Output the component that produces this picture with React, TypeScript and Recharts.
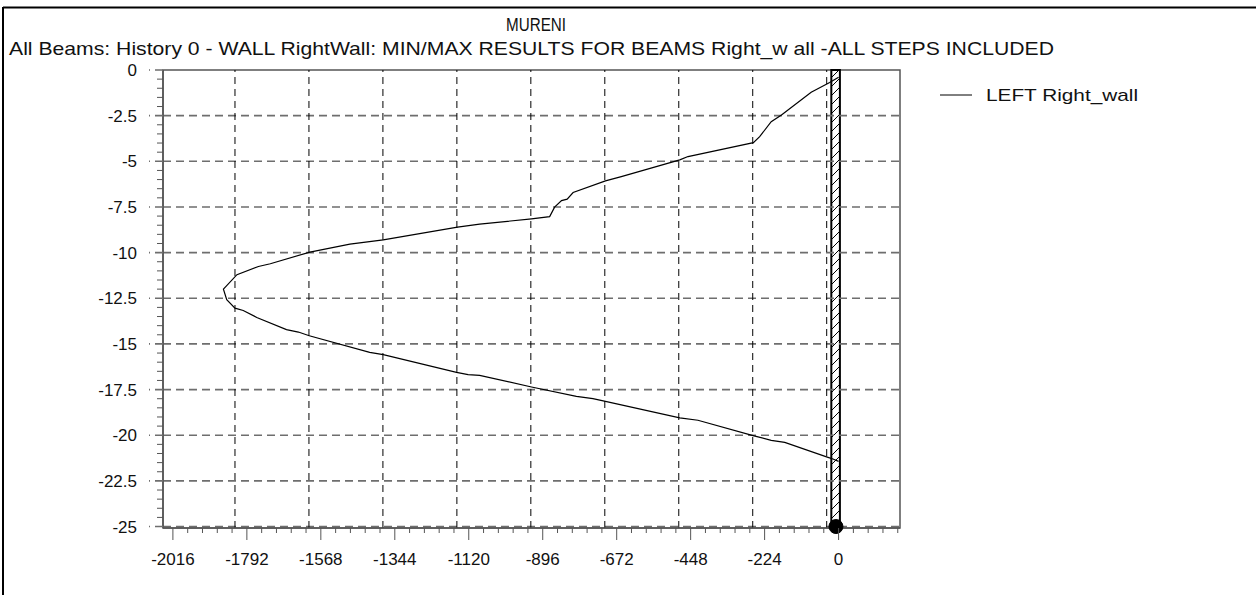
import React from "react";
import {
  ScatterChart,
  Scatter,
  XAxis,
  YAxis,
  ReferenceLine,
  ReferenceArea,
  ReferenceDot,
  Legend,
} from "recharts";

// Depth along the wall (m) and the LEFT envelope value at that depth
const depths = [
  -0.4, -0.69, -1.22, -2.46, -2.83, -3.65, -3.98, -4.74, -4.92, -5.84, -6.07, -6.71,
  -7.07, -7.15, -7.51, -8.03, -8.15, -8.44, -8.6, -9.3, -9.54, -9.97, -10.61, -10.76,
  -11.21, -12.0, -12.58, -13.04, -13.17, -13.55, -14.22, -14.35, -14.55, -15.46, -15.59,
  -16.56, -16.68, -16.72, -17.36, -17.87, -18.0, -18.15, -19.05, -19.18, -20.02, -20.28,
  -20.39, -21.21, -21.3, -21.43,
];
const leftRightWall = [
  0, -27, -83, -173, -204, -239, -258, -456, -481, -658, -706, -804,
  -822, -839, -860, -875, -930, -1087, -1154, -1379, -1480, -1601, -1721, -1757,
  -1822, -1863, -1853, -1828, -1803, -1762, -1672, -1636, -1603, -1420, -1379,
  -1157, -1122, -1087, -930, -794, -744, -706, -481, -426, -259, -204,
  -163, -32, -17, 0,
];

const xMajorTicks = [-2016, -1792, -1568, -1344, -1120, -896, -672, -448, -224, 0];
const yMajorTicks = [0, -2.5, -5, -7.5, -10, -12.5, -15, -17.5, -20, -22.5, -25];
const xGridValues = [-1828, -1604, -1380, -1156, -932, -708, -484, -260, -36];

const X_DOMAIN: [number, number] = [-2046, 186];
const Y_DOMAIN: [number, number] = [-25.08, 0];
const X_MINOR = 44.8;
const Y_MINOR = 0.5;

const curve = depths.map((z, i) => ({ z, m: leftRightWall[i] }));

// axis ticks: majors plus four minor subdivisions between them
const xTicks: number[] = [];
for (let i = -45; i <= 4; i++) xTicks.push(i % 5 === 0 ? xMajorTicks[9 + i / 5] : i * X_MINOR);
const yTicks: number[] = [];
for (let i = -50; i <= 0; i++) yTicks.push(i % 5 === 0 ? yMajorTicks[-i / 5] : i * Y_MINOR);

const FONT = "'Liberation Sans', Arial, Helvetica, sans-serif";
const AXIS_COLOR = "#555";
const GRID_COLOR = "#6e6e6e";

const isMajorX = (v: number) => xMajorTicks.includes(v);
const isMajorY = (v: number) => yMajorTicks.includes(v);

const XTick = (props: any) => {
  const { x, y, payload } = props;
  const v = payload.value;
  const major = isMajorX(v);
  return (
    <g>
      <line x1={x} x2={x} y1={y} y2={y + (major ? 12 : 5)} stroke={AXIS_COLOR} strokeWidth={1} />
      {major && (
        <text x={x} y={y + 37} textAnchor="middle" fontFamily={FONT} fontSize={17} fill="#111">
          {String(v)}
        </text>
      )}
    </g>
  );
};

const YTick = (props: any) => {
  const { x, y, payload } = props;
  const v = payload.value;
  const major = isMajorY(v);
  return (
    <g>
      {major ? (
        <line x1={x} x2={x - 14} y1={y} y2={y} stroke={GRID_COLOR} strokeWidth={1.6} strokeDasharray="8 5" />
      ) : (
        <line x1={x} x2={x - 6} y1={y} y2={y} stroke={AXIS_COLOR} strokeWidth={1} />
      )}
      {major && (
        <text x={x - 26} y={y} dy="0.36em" textAnchor="end" fontFamily={FONT} fontSize={17} fill="#111">
          {String(v)}
        </text>
      )}
    </g>
  );
};

const renderLegend = () => (
  <svg width={260} height={24} style={{ display: "block" }}>
    <line x1={0} x2={32} y1={11} y2={11} stroke="#000" strokeWidth={1} />
    <text x={46} y={11} dy="0.36em" fontFamily={FONT} fontSize={17} fill="#111" textLength={152} lengthAdjust="spacingAndGlyphs">
      LEFT Right_wall
    </text>
  </svg>
);

const noMarker = () => <g />;

export default function App() {
  return (
    <div style={{ position: "absolute", left: 0, top: 0, width: 1256, height: 595, background: "#fff" }}>
      <svg width={1256} height={595} style={{ position: "absolute", left: 0, top: 0 }}>
        <defs>
          <pattern id="wallHatch" patternUnits="userSpaceOnUse" width={9} height={9}>
            <rect width={9} height={9} fill="#fff" />
            <path d="M0,9 L9,0 M-2,2 L2,-2 M7,11 L11,7" stroke="#000" strokeWidth={1} />
          </pattern>
        </defs>
        <line x1={3} x2={1256} y1={7.5} y2={7.5} stroke="#000" strokeWidth={2} />
        <line x1={3} x2={3} y1={7} y2={595} stroke="#000" strokeWidth={2} />
        <text x={536} y={31} textAnchor="middle" fontFamily={FONT} fontSize={18} fill="#111" textLength={60} lengthAdjust="spacingAndGlyphs">
          MURENI
        </text>
        <text x={9} y={55} fontFamily={FONT} fontSize={19} fill="#111" textLength={1045} lengthAdjust="spacingAndGlyphs">
          All Beams: History 0 - WALL RightWall: MIN/MAX RESULTS FOR BEAMS Right_w all -ALL STEPS INCLUDED
        </text>
      </svg>
      <div style={{ position: "absolute", left: 0, top: 0 }}>
        <ScatterChart width={1256} height={595} margin={{ top: 70, right: 356, bottom: 27, left: 103 }}>
          <XAxis
            type="number"
            dataKey="m"
            domain={X_DOMAIN}
            ticks={xTicks}
            interval={0}
            tickSize={0}
            tickMargin={0}
            height={40}
            stroke={AXIS_COLOR}
            axisLine={{ stroke: AXIS_COLOR, strokeWidth: 1.5 }}
            tick={<XTick />}
          />
          <YAxis
            type="number"
            dataKey="z"
            domain={Y_DOMAIN}
            ticks={yTicks}
            interval={0}
            tickSize={0}
            tickMargin={0}
            width={60}
            axisLine={{ stroke: AXIS_COLOR, strokeWidth: 1.5 }}
            tick={<YTick />}
          />
          {yMajorTicks
            .filter((v) => v !== 0)
            .map((v) => (
              <ReferenceLine key={`h${v}`} y={v} stroke={GRID_COLOR} strokeWidth={1.6} strokeDasharray="8 5" />
            ))}
          {xGridValues.map((v) => (
            <ReferenceLine key={`v${v}`} x={v} stroke="#000" strokeWidth={1} strokeDasharray="7 5" />
          ))}
          <ReferenceArea x1={X_DOMAIN[0]} x2={X_DOMAIN[1]} y1={Y_DOMAIN[0]} y2={Y_DOMAIN[1]} fill="none" fillOpacity={0} stroke={AXIS_COLOR} strokeWidth={1.5} />
          <ReferenceArea x1={-22} x2={4} y1={Y_DOMAIN[0]} y2={Y_DOMAIN[1]} fill="url(#wallHatch)" fillOpacity={1} stroke="#000" strokeWidth={2} />
          <Scatter
            name="LEFT Right_wall"
            data={curve}
            line={{ stroke: "#000", strokeWidth: 1.2 }}
            lineType="joint"
            shape={noMarker}
            legendType="line"
            isAnimationActive={false}
          />
          <ReferenceDot x={-8} y={-25} r={7} fill="#000" stroke="#000" />
          <Legend
            layout="vertical"
            align="center"
            verticalAlign="middle"
            content={renderLegend}
            wrapperStyle={{ position: "absolute", left: 940, top: 84, width: 260, height: 24 }}
          />
        </ScatterChart>
      </div>
    </div>
  );
}
